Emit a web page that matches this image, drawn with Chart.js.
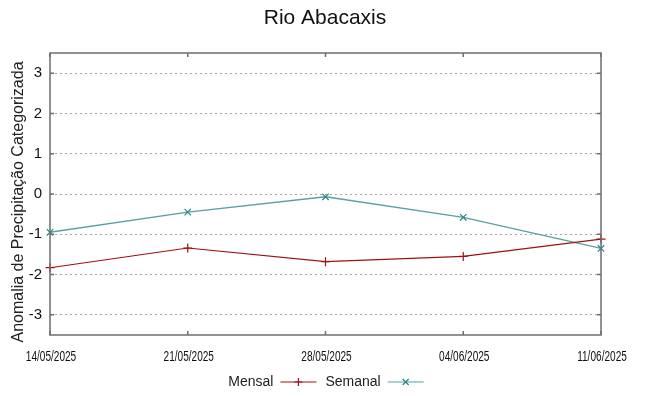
<!DOCTYPE html>
<html>
<head>
<meta charset="utf-8">
<script src="https://cdn.jsdelivr.net/npm/chart.js@4/dist/chart.umd.min.js"></script>
<style>
  html, body { margin: 0; padding: 0; background: #fff; }
  #wrap { width: 648px; height: 396px; }
</style>
</head>
<body>
<div id="wrap"><canvas id="chuva" width="648" height="396"></canvas></div>
<script>
// Dates on the x axis
var datas = ["14/05/2025", "21/05/2025", "28/05/2025", "04/06/2025", "11/06/2025"];
// Categorised precipitation anomaly, monthly and weekly
var mensal = [-1.83, -1.34, -1.68, -1.55, -1.12];
var semanal = [-0.95, -0.45, -0.07, -0.58, -1.35];
// Y tick labels
var yTicks = [-3, -2, -1, 0, 1, 2, 3];

var titulo = 'Rio Abacaxis';
var tituloY = 'Anomalia de Precipitação Categorizada';
var corBorda = '#6e6e6e';
var fonte = '"Liberation Sans", Arial, sans-serif';

// Short inward ticks on all four borders, gnuplot style
var ticksDentro = {
    id: 'ticksDentro',
    afterDraw: function(chart) {
        var ctx = chart.ctx, a = chart.chartArea;
        var x = chart.scales.x, y = chart.scales.y;
        ctx.save();
        ctx.strokeStyle = corBorda;
        ctx.lineWidth = 1.5;
        ctx.beginPath();
        yTicks.forEach(function(v) {
            var py = y.getPixelForValue(v);
            ctx.moveTo(a.left, py); ctx.lineTo(a.left + 4, py);
            ctx.moveTo(a.right, py); ctx.lineTo(a.right - 4, py);
        });
        datas.forEach(function(d, i) {
            var px = x.getPixelForValue(i);
            ctx.moveTo(px, a.bottom); ctx.lineTo(px, a.bottom - 4);
            ctx.moveTo(px, a.top); ctx.lineTo(px, a.top + 4);
        });
        ctx.stroke();
        ctx.strokeRect(a.left, a.top, a.right - a.left, a.bottom - a.top);
        ctx.restore();
    }
};

// Title, y title and the narrow date labels
var textos = {
    id: 'textos',
    afterDraw: function(chart) {
        var ctx = chart.ctx, x = chart.scales.x;
        ctx.save();
        ctx.fillStyle = '#111';
        ctx.textAlign = 'center';
        ctx.textBaseline = 'middle';
        ctx.font = '21px ' + fonte;
        ctx.fillText(titulo, 325, 18);

        ctx.save();
        ctx.translate(19, 202);
        ctx.rotate(-Math.PI / 2);
        ctx.font = '16px ' + fonte;
        ctx.fillStyle = '#222';
        ctx.fillText(tituloY, 0, 0);
        ctx.restore();

        ctx.font = '14px ' + fonte;
        datas.forEach(function(d, i) {
            var px = x.getPixelForValue(i);
            ctx.save();
            ctx.translate(px + 1, 357);
            ctx.scale(0.72, 1);
            ctx.fillText(d, 0, 0);
            ctx.restore();
        });
        ctx.restore();
    }
};

// Legend below the chart: label first, then the line sample with its marker
var legendaGnuplot = {
    id: 'legendaGnuplot',
    afterDraw: function(chart) {
        var ctx = chart.ctx;
        var cy = 382;
        ctx.save();
        ctx.font = '14px ' + fonte;
        ctx.textBaseline = 'middle';
        var amostra = 36, gap = 7, entre = 9;
        var itens = chart.data.datasets.map(function(ds) {
            return { ds: ds, w: ctx.measureText(ds.label).width };
        });
        var total = 0;
        itens.forEach(function(it, i) {
            total += it.w + gap + amostra + (i < itens.length - 1 ? entre : 0);
        });
        var x0 = 326 - total / 2;
        itens.forEach(function(it) {
            ctx.fillStyle = '#222';
            ctx.textAlign = 'left';
            ctx.fillText(it.ds.label, x0, cy);
            var sx = x0 + it.w + gap;
            ctx.strokeStyle = it.ds.borderColor;
            ctx.lineWidth = 1.2;
            ctx.beginPath();
            ctx.moveTo(sx, cy); ctx.lineTo(sx + amostra, cy);
            ctx.stroke();
            var mx = sx + amostra / 2, r = 4;
            ctx.strokeStyle = it.ds.pointBorderColor;
            ctx.beginPath();
            if (it.ds.pointStyle === 'cross') {
                ctx.moveTo(mx - r, cy); ctx.lineTo(mx + r, cy);
                ctx.moveTo(mx, cy - r); ctx.lineTo(mx, cy + r);
            } else {
                ctx.moveTo(mx - r * 0.75, cy - r * 0.75); ctx.lineTo(mx + r * 0.75, cy + r * 0.75);
                ctx.moveTo(mx - r * 0.75, cy + r * 0.75); ctx.lineTo(mx + r * 0.75, cy - r * 0.75);
            }
            ctx.stroke();
            x0 = sx + amostra + entre;
        });
        ctx.restore();
    }
};

var ctx = document.getElementById('chuva').getContext('2d');
var grafico = new Chart(ctx, {
    type: 'line',
    data: {
        labels: datas,
        datasets: [{
            label: 'Mensal',
            data: mensal,
            borderColor: '#a01010',
            pointBorderColor: '#a01010',
            backgroundColor: '#a01010',
            borderWidth: 1.2,
            pointStyle: 'cross',
            pointRadius: 4.5,
            pointBorderWidth: 1.2,
            tension: 0,
            fill: false
        }, {
            label: 'Semanal',
            data: semanal,
            borderColor: '#5aa0a0',
            pointBorderColor: '#2a8585',
            backgroundColor: '#5aa0a0',
            borderWidth: 1.4,
            pointStyle: 'crossRot',
            pointRadius: 4.5,
            pointBorderWidth: 1.2,
            tension: 0,
            fill: false
        }]
    },
    options: {
        responsive: false,
        animation: false,
        layout: { padding: { left: 0, right: 47, top: 53, bottom: 0 } },
        plugins: {
            legend: { display: false },
            tooltip: { enabled: false },
            title: { display: false }
        },
        scales: {
            x: {
                offset: false,
                grid: { display: false, drawTicks: false },
                border: { display: false },
                ticks: { display: false },
                afterFit: function(s) { s.height = 61; }
            },
            y: {
                min: -3.5,
                max: 3.5,
                afterBuildTicks: function(s) {
                    s.ticks = yTicks.map(function(v) { return { value: v }; });
                },
                grid: {
                    color: '#a8a8a8',
                    lineWidth: 1,
                    drawTicks: false
                },
                border: { display: false, dash: [2, 3] },
                ticks: {
                    color: '#111',
                    padding: 8,
                    font: { family: fonte, size: 15 }
                },
                afterFit: function(s) { s.width = 50; }
            }
        }
    },
    plugins: [ticksDentro, textos, legendaGnuplot]
});
</script>
</body>
</html>
